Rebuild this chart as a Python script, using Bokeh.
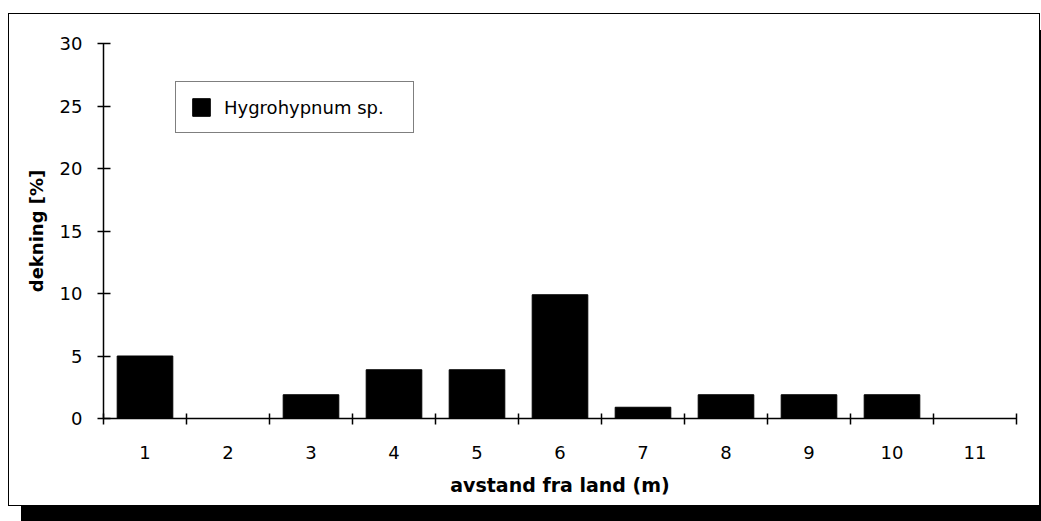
from bokeh.plotting import figure
from bokeh.models import FixedTicker, Legend, LegendItem, Range1d, ColumnDataSource
from bokeh.embed import file_html
from bokeh.resources import INLINE

categories = [1, 2, 3, 4, 5, 6, 7, 8, 9, 10, 11]
cover = [5, 0, 1.9, 3.9, 3.9, 9.9, 0.9, 1.9, 1.9, 1.9, 0]
series_name = "Hygrohypnum sp."
y_ticks = [0, 5, 10, 15, 20, 25, 30]

FONT = "DejaVu Sans"

p = figure(width=1030, height=491, output_backend="svg", toolbar_location=None,
           x_range=Range1d(0.5, 11.5), y_range=Range1d(0, 30),
           min_border_left=94, min_border_top=29, min_border_right=23, min_border_bottom=87)
p.margin = (14, 0, 0, 9)
p.styles = {"box-shadow": "0 0 0 1px black, 12px 16px 0 0 black"}
p.outline_line_color = None
p.xgrid.visible = False
p.ygrid.visible = False
p.background_fill_color = "white"
p.border_fill_color = "white"

src = ColumnDataSource(dict(x=categories, top=cover))
r = p.vbar(x="x", top="top", width=0.67, source=src, fill_color="black", line_color="black")

# x axis: labels at centres, crossing ticks at boundaries
boundaries = [c - 0.5 for c in categories] + [categories[-1] + 0.5]
p.xaxis.ticker = FixedTicker(ticks=categories, minor_ticks=boundaries)
p.xaxis.major_tick_line_color = None
p.xaxis.minor_tick_in = 5
p.xaxis.minor_tick_out = 6
p.xaxis.minor_tick_line_color = "black"
p.xaxis.minor_tick_line_width = 1.5
p.xaxis.axis_line_width = 1.5
p.xaxis.axis_line_color = "black"
p.xaxis.major_label_standoff = 21
p.xaxis.major_label_text_font = FONT
p.xaxis.major_label_text_font_size = "18px"
p.xaxis.major_label_text_color = "black"
p.xaxis.axis_label = "avstand fra land (m)"
p.xaxis.axis_label_text_font = FONT
p.xaxis.axis_label_text_font_style = "bold"
p.xaxis.axis_label_text_font_size = "19px"
p.xaxis.axis_label_text_color = "black"
p.xaxis.axis_label_standoff = 12

p.yaxis.ticker = FixedTicker(ticks=y_ticks, minor_ticks=[])
p.yaxis.major_tick_in = 7
p.yaxis.major_tick_out = 6
p.yaxis.major_tick_line_width = 1.5
p.yaxis.major_tick_line_color = "black"
p.yaxis.axis_line_width = 1.5
p.yaxis.axis_line_color = "black"
p.yaxis.major_label_standoff = 15
p.yaxis.major_label_text_font = FONT
p.yaxis.major_label_text_font_size = "18px"
p.yaxis.major_label_text_color = "black"
p.yaxis.axis_label = "dekning [%]"
p.yaxis.axis_label_text_font = FONT
p.yaxis.axis_label_text_font_style = "bold"
p.yaxis.axis_label_text_font_size = "18px"
p.yaxis.axis_label_text_color = "black"
p.yaxis.axis_label_standoff = 10

legend = Legend(items=[LegendItem(label=series_name, renderers=[r])],
                location=(72, 285), orientation="vertical")
legend.border_line_color = "black"
legend.border_line_width = 1.5
legend.label_text_font = FONT
legend.label_text_font_size = "18px"
legend.label_text_color = "black"
legend.label_width = 175
legend.glyph_width = 22
legend.glyph_height = 22
legend.padding = 14
legend.label_standoff = 12
legend.margin = 0
p.add_layout(legend, "center")

open("out.html", "w").write(file_html(p, INLINE))
